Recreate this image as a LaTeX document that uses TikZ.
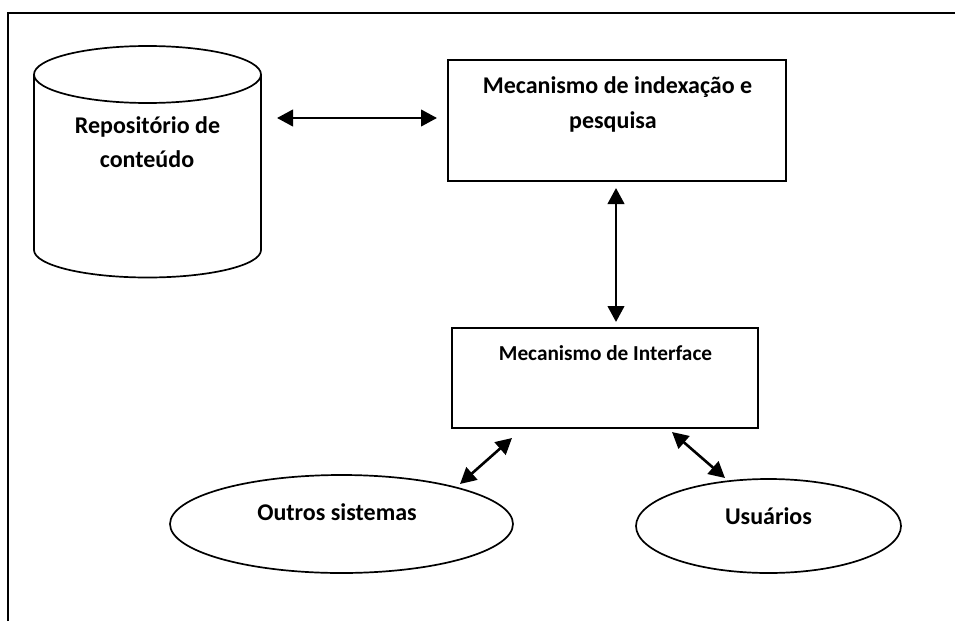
\documentclass[tikz,border=0pt]{standalone}
\usepackage{fontspec}
\setmainfont{Carlito}
\usetikzlibrary{arrows.meta,shapes.geometric}
\tikzset{
  framel/.style={line width=2pt,black},
  boxn/.style={draw=black,line width=2pt,rectangle,inner sep=0pt,outer sep=0pt},
  elln/.style={draw=black,line width=1.7pt,ellipse,inner sep=0pt,outer sep=0pt},
  cyll/.style={draw=black,line width=1.7pt,fill=white},
  lab/.style={anchor=base,inner sep=0pt,font=\bfseries\fontsize{24}{28}\selectfont,text=black},
  labs/.style={anchor=base,inner sep=0pt,font=\bfseries\fontsize{21.3}{25}\selectfont,text=black},
  dbl/.style={line width=2.6pt,black,{Triangle[length=16pt,width=16.5pt]}-{Triangle[length=16pt,width=16.5pt]}},
}
\begin{document}
\begin{tikzpicture}[x=1pt,y=-1pt]
\useasboundingbox (0,0) rectangle (955,621);
\draw[framel] (8,621) -- (8,13) -- (955,13);
% cylinder
\draw[cyll] (34,74.5) -- (34,250) arc[start angle=180,end angle=360,x radius=113.5,y radius=-27.5] -- (261,74.5);
\draw[cyll] (147.5,74.5) ellipse[x radius=113.5,y radius=28.5];
\node[lab] (repo1) at (147.5,133) {Repositório de};
\node[lab] (repo2) at (147,167) {conteúdo};
% boxes
\node[boxn,minimum width=338pt,minimum height=121pt] (idx) at (617,120.5) {};
\node[lab] (idx1) at (617.5,93) {Mecanismo de indexação e};
\node[lab] (idx2) at (613,128) {pesquisa};
\node[boxn,minimum width=306pt,minimum height=100pt] (ifc) at (605,378) {};
\node[labs] (ifc1) at (605.5,360) {Mecanismo de Interface};
% ellipses
\node[elln,minimum width=343pt,minimum height=98pt] (out) at (341.5,524) {};
\node[lab] (outl) at (337,520) {Outros sistemas};
\node[elln,minimum width=265pt,minimum height=94pt] (usr) at (768.5,526) {};
\node[lab] (usrl) at (768.5,524) {Usuários};
% connector ends
\coordinate (a1) at (277,118);
\coordinate (a2) at (437,118);
\coordinate (b1) at (616,188);
\coordinate (b2) at (616,322);
\coordinate (c1) at (460,484);
\coordinate (c2) at (512,438);
\coordinate (d1) at (672,432);
\coordinate (d2) at (725,478);
\draw[dbl] (a1) -- (a2);
\draw[dbl] (b1) -- (b2);
\draw[dbl] (c1) -- (c2);
\draw[dbl] (d1) -- (d2);
\end{tikzpicture}
\end{document}
